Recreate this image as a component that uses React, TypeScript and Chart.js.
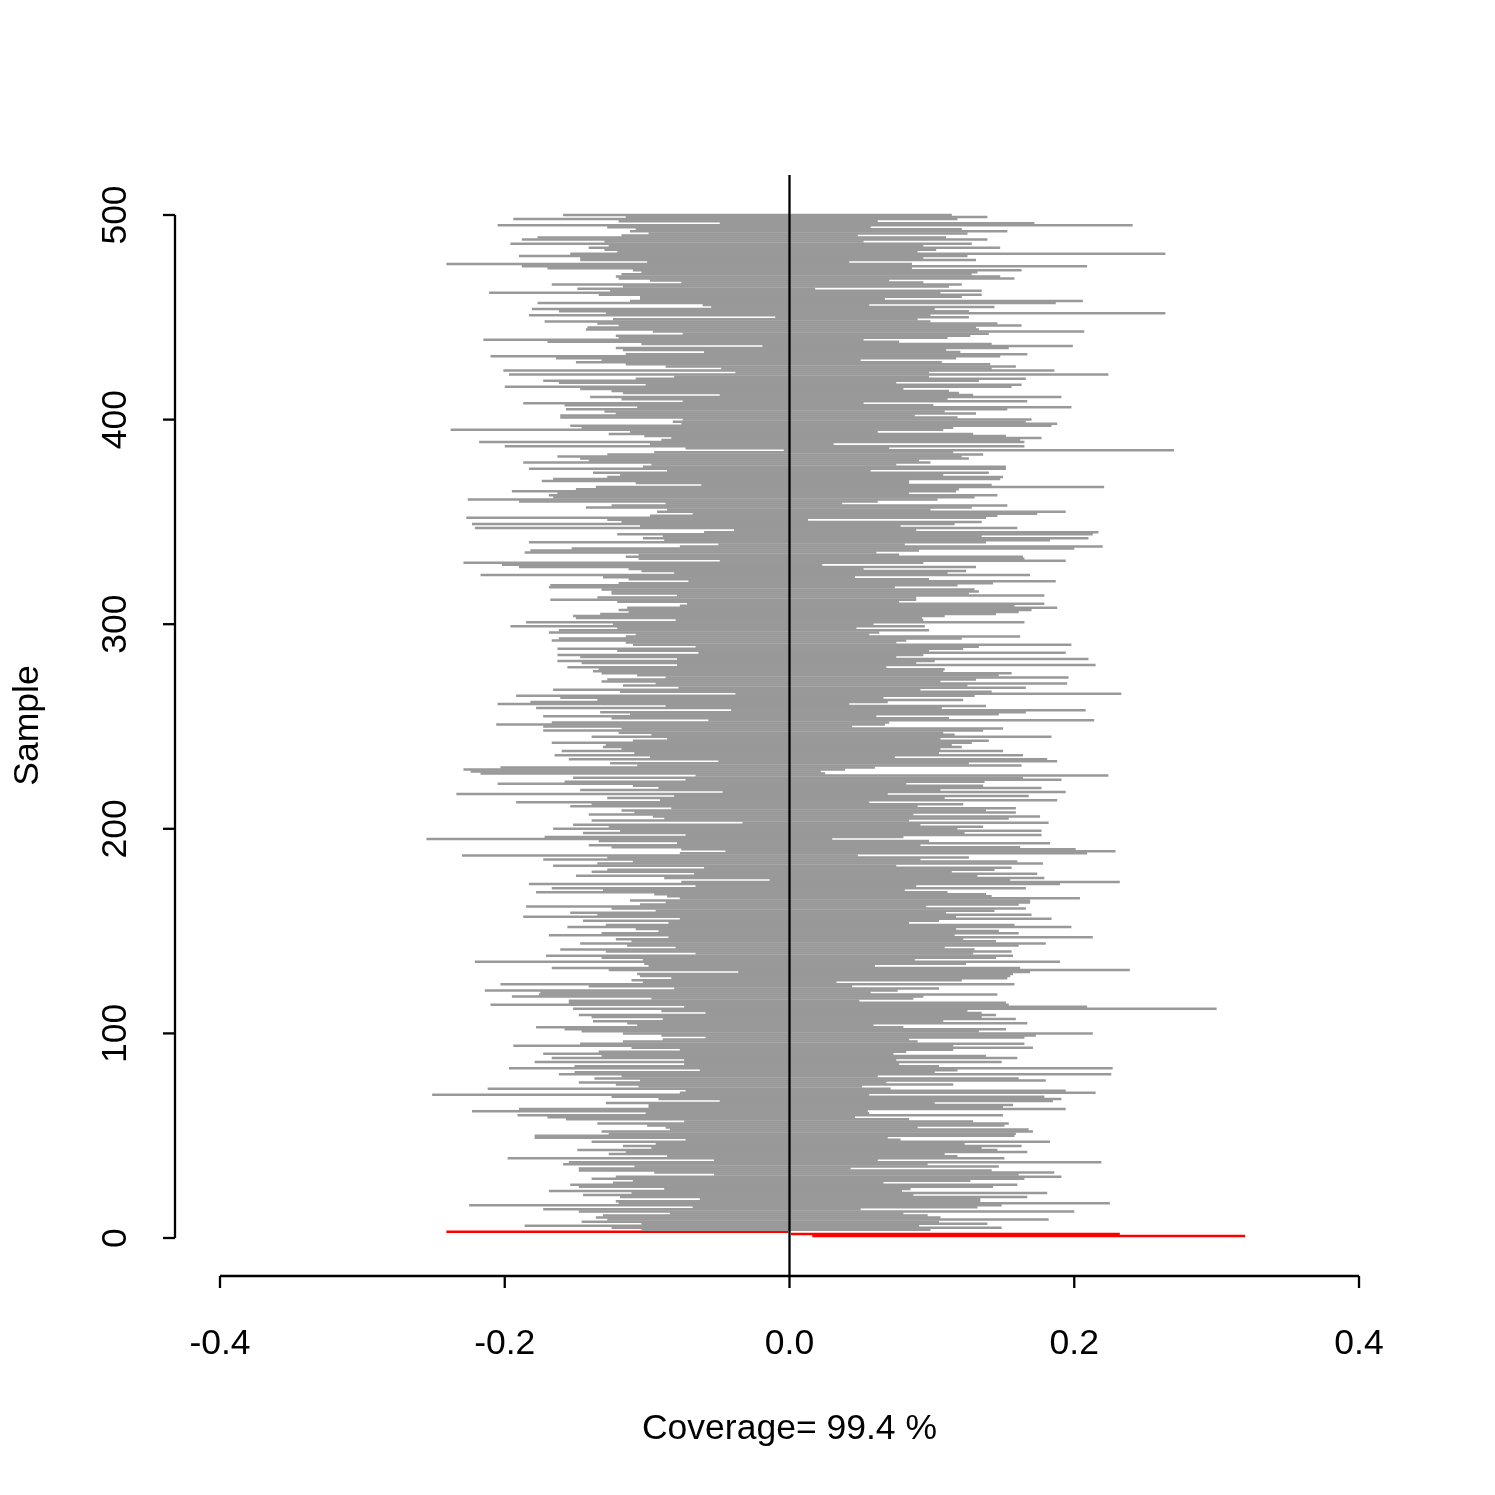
import React, { useEffect, useRef } from "react";
import { Chart, registerables } from "chart.js";

Chart.register(...registerables);

// Interval bounds in thousandths, for samples 500 (top) down to 4 (bottom), one entry per sample.
const lowerBound = [
  -159,-115,-194,-120,-49,-205,-128,-108,-112,-99,-118,-177,-188,-130,-196,-127,-141,-130,-121,-154,-190,-147,-147,-100,-241,-188,-170,-110,-104,-118,-122,-120,-98,-76,-167,-117,-149,-126,-211,-134,-105,-105,-112,-177,-61,-55,-181,-162,-129,-183,-10,-124,-172,-135,-120,-142,-143,-96,-75,-122,-120,-215,-170,-104,-19,-122,-117,-60,-115,-210,-164,-132,-150,-115,-87,-48,-201,-38,-197,-81,-108,-173,-162,-101,
  -200,-147,-125,-117,-49,-140,-118,-75,-187,-158,-107,-157,-130,-122,-161,-161,-75,-82,-76,-154,-146,-238,-112,-127,-102,-83,-90,-218,-98,-200,-73,-4,-95,-128,-163,-147,-141,-187,-97,-103,-183,-86,-138,-119,-128,-166,-174,-108,-62,-136,-150,-195,-163,-169,-166,-226,-190,-87,-125,-143,-86,-93,-68,-98,-227,-128,-118,-223,-105,-221,-39,-60,-121,-89,-103,-88,-183,-50,-77,-153,-182,-186,-106,-115,
  -106,-49,-229,-202,-190,-113,-104,-81,-217,-131,-113,-71,-120,-168,-169,-132,-125,-125,-79,-135,-168,-121,-72,-77,-114,-120,-113,-133,-152,-150,-80,-185,-124,-196,-121,-162,-169,-108,-115,-162,-167,-115,-110,-66,-163,-121,-64,-163,-147,-79,-163,-146,-79,-156,-134,-138,-132,-107,-87,-128,-132,-94,-117,-78,-166,-119,-38,-192,-161,-135,-182,-205,-87,-178,-41,-133,-112,-173,-125,-57,-167,-206,-173,-118,
  -173,-120,-97,-139,-86,-110,-167,-129,-131,-118,-160,-109,-165,-98,-155,-50,-126,-107,-203,-229,-224,-217,-66,-152,-73,-158,-205,-110,-92,-147,-47,-234,-81,-128,-91,-192,-139,-154,-83,-118,-109,-141,-96,-88,-139,-33,-152,-127,-166,-119,-145,-73,-172,-255,-134,-79,-141,-125,-76,-45,-77,-230,-128,-173,-110,-135,-166,-60,-128,-139,-67,-150,-88,-14,-76,-183,-66,-167,-131,-178,-95,-86,-77,-112,
  -87,-105,-185,-125,-94,-154,-135,-187,-77,-145,-85,-129,-156,-108,-92,-132,-169,-85,-122,-111,-147,-114,-80,-161,-129,-66,-171,-132,-103,-221,-102,-99,-167,-127,-36,-107,-105,-83,-111,-103,-203,-141,-81,-214,-175,-176,-195,-97,-155,-155,-210,-74,-152,-90,-59,-148,-139,-89,-138,-114,-107,-178,-158,-146,-117,-90,-59,-89,-117,-147,-194,-111,-77,-134,-173,-132,-167,-74,-179,-74,-151,-197,-63,-151,
  -162,-118,-137,-105,-148,-122,-106,-212,-73,-77,-251,-125,-92,-49,-129,-99,-99,-190,-223,-101,-191,-170,-157,-74,-135,-100,-87,-84,-132,-127,-179,-179,-73,-139,-94,-117,-97,-149,-115,-127,-86,-198,-53,-155,-159,-109,-148,-148,-95,-53,-122,-139,-110,-124,-154,-148,-88,-169,-111,-145,-119,-63,-122,-120,-225,-68,-173,-148,-84,-131,-136,-128,-146,-104,-186,-125,-104,
];

const upperBound = [
  114,139,118,62,172,241,57,121,153,125,48,110,139,52,128,94,148,103,90,264,125,94,131,42,86,209,86,163,132,128,148,158,70,94,121,112,18,135,106,135,121,67,206,187,56,144,102,126,264,99,126,90,99,146,163,131,133,207,140,127,111,52,77,142,199,154,110,120,167,148,117,50,107,141,159,142,186,98,224,98,166,133,75,163,
  156,80,112,119,129,191,111,167,52,101,198,153,109,131,88,118,170,166,188,184,115,108,62,129,152,177,162,165,31,165,70,270,115,136,121,126,91,99,75,152,152,57,140,108,150,148,84,84,142,221,119,117,84,146,130,104,62,37,153,128,99,194,174,146,138,13,135,116,78,160,89,217,213,135,210,183,138,81,220,200,91,61,77,164,
  165,194,94,23,131,52,124,111,169,46,98,187,143,118,74,130,133,126,179,89,89,77,179,158,188,170,161,145,109,93,94,165,59,95,47,98,63,56,162,121,82,75,198,133,122,98,194,94,75,210,102,89,215,68,109,108,156,147,196,131,106,195,125,166,92,142,233,130,66,122,69,42,138,107,208,166,147,61,112,214,70,67,44,150,
  136,108,116,184,106,140,128,114,121,106,150,105,164,74,181,188,126,163,60,39,22,25,224,164,191,137,82,136,177,106,194,69,168,109,188,56,122,90,159,138,159,87,176,154,84,182,92,136,118,177,123,177,80,30,98,183,92,162,201,229,209,48,126,92,160,178,75,156,144,114,174,132,179,155,232,190,89,166,81,111,138,142,204,169,
  169,161,96,166,144,110,170,117,184,105,84,158,198,117,147,161,116,213,122,145,180,161,109,130,156,129,157,145,88,190,124,60,162,239,169,157,155,153,121,33,158,44,105,76,57,146,94,87,49,152,154,209,300,125,135,145,135,159,108,167,59,80,152,133,213,173,165,84,90,165,115,171,115,82,73,138,160,75,149,77,105,227,118,102,
  226,62,161,180,68,115,51,71,194,215,56,179,191,185,102,157,150,194,55,56,150,46,84,129,154,151,90,168,171,159,158,69,78,183,123,163,135,146,167,109,118,151,62,219,97,147,43,142,186,161,191,165,127,66,160,143,85,79,181,87,167,134,134,225,149,132,50,200,80,97,106,182,105,139,91,149,99,
];

const FIRST_SAMPLE = 500; // sample number of the first entry above

// Intervals that miss 0 (in thousandths), drawn in red
const missSamples = [3, 2, 1];
const missLower = [-241, 1, 16];
const missUpper = [-1, 232, 320];

const xTicks = [-0.4, -0.2, 0, 0.2, 0.4];
const xTickLabels = ["-0.4", "-0.2", "0.0", "0.2", "0.4"];
const yTicks = [0, 100, 200, 300, 400, 500];
const yTickLabels = ["0", "100", "200", "300", "400", "500"];
const xTitle = "Coverage= 99.4 %";
const yTitle = "Sample";

const FONT = '35.5px "Liberation Sans", Arial, Helvetica, sans-serif';

const rAxesPlugin = {
  id: "rAxes",
  afterDatasetsDraw(chart: any) {
    const { ctx, chartArea, scales } = chart;
    const x = scales.x;
    const y = scales.y;
    ctx.save();
    ctx.strokeStyle = "#000000";
    ctx.fillStyle = "#000000";
    ctx.lineWidth = 2.3;
    ctx.lineCap = "butt";
    const seg = (x1: number, y1: number, x2: number, y2: number) => {
      ctx.beginPath();
      ctx.moveTo(x1, y1);
      ctx.lineTo(x2, y2);
      ctx.stroke();
    };
    // vertical reference line at 0
    const x0 = x.getPixelForValue(0);
    seg(x0, chartArea.top, x0, chartArea.bottom);

    // x axis
    const axY = chartArea.bottom;
    seg(x.getPixelForValue(xTicks[0]), axY, x.getPixelForValue(xTicks[xTicks.length - 1]), axY);
    ctx.font = FONT;
    ctx.textAlign = "center";
    ctx.textBaseline = "alphabetic";
    xTicks.forEach((t, i) => {
      const px = x.getPixelForValue(t);
      seg(px, axY, px, axY + 12);
      ctx.fillText(xTickLabels[i], px, axY + 78);
    });
    ctx.fillText(xTitle, (chartArea.left + chartArea.right) / 2, axY + 163);

    // y axis
    const axX = chartArea.left;
    seg(axX, y.getPixelForValue(yTicks[0]), axX, y.getPixelForValue(yTicks[yTicks.length - 1]));
    yTicks.forEach((t, i) => {
      const py = y.getPixelForValue(t);
      seg(axX - 12, py, axX, py);
      ctx.save();
      ctx.translate(axX - 49, py);
      ctx.rotate(-Math.PI / 2);
      ctx.fillText(yTickLabels[i], 0, 0);
      ctx.restore();
    });
    ctx.save();
    ctx.translate(38, (chartArea.top + chartArea.bottom) / 2);
    ctx.rotate(-Math.PI / 2);
    ctx.fillText(yTitle, 0, 0);
    ctx.restore();
    ctx.restore();
  },
};

export default function App() {
  const canvasRef = useRef<HTMLCanvasElement | null>(null);

  useEffect(() => {
    const canvas = canvasRef.current;
    if (!canvas) return;
    const greyData = lowerBound.map((lo, i) => ({
      y: FIRST_SAMPLE - i,
      x: [lo / 1000, upperBound[i] / 1000],
    }));
    const redData = missSamples.map((s, i) => ({
      y: s,
      x: [missLower[i] / 1000, missUpper[i] / 1000],
    }));
    const chart = new Chart(canvas, {
      type: "bar",
      data: {
        datasets: [
          {
            data: greyData as any,
            backgroundColor: "#999999",
            borderWidth: 0,
            barThickness: 2.5,
            grouped: false,
            inflateAmount: 0,
          } as any,
          {
            data: redData as any,
            backgroundColor: "#FF0000",
            borderWidth: 0,
            barThickness: 2.5,
            grouped: false,
            inflateAmount: 0,
          } as any,
        ],
      },
      options: {
        indexAxis: "y",
        responsive: false,
        animation: false,
        devicePixelRatio: 1,
        layout: { padding: { left: 175, right: 91, top: 175, bottom: 219 } },
        scales: {
          x: { type: "linear", min: -0.4316, max: 0.4316, display: false },
          y: { type: "linear", min: -18.57, max: 519.55, display: false, offset: false },
        },
        plugins: {
          legend: { display: false },
          tooltip: { enabled: false },
        },
      } as any,
      plugins: [rAxesPlugin],
    });
    return () => chart.destroy();
  }, []);

  return (
    <div style={{ position: "absolute", left: 0, top: 0, width: 1495, height: 1495, background: "#ffffff" }}>
      <canvas ref={canvasRef} width={1495} height={1495} style={{ display: "block" }} />
    </div>
  );
}
